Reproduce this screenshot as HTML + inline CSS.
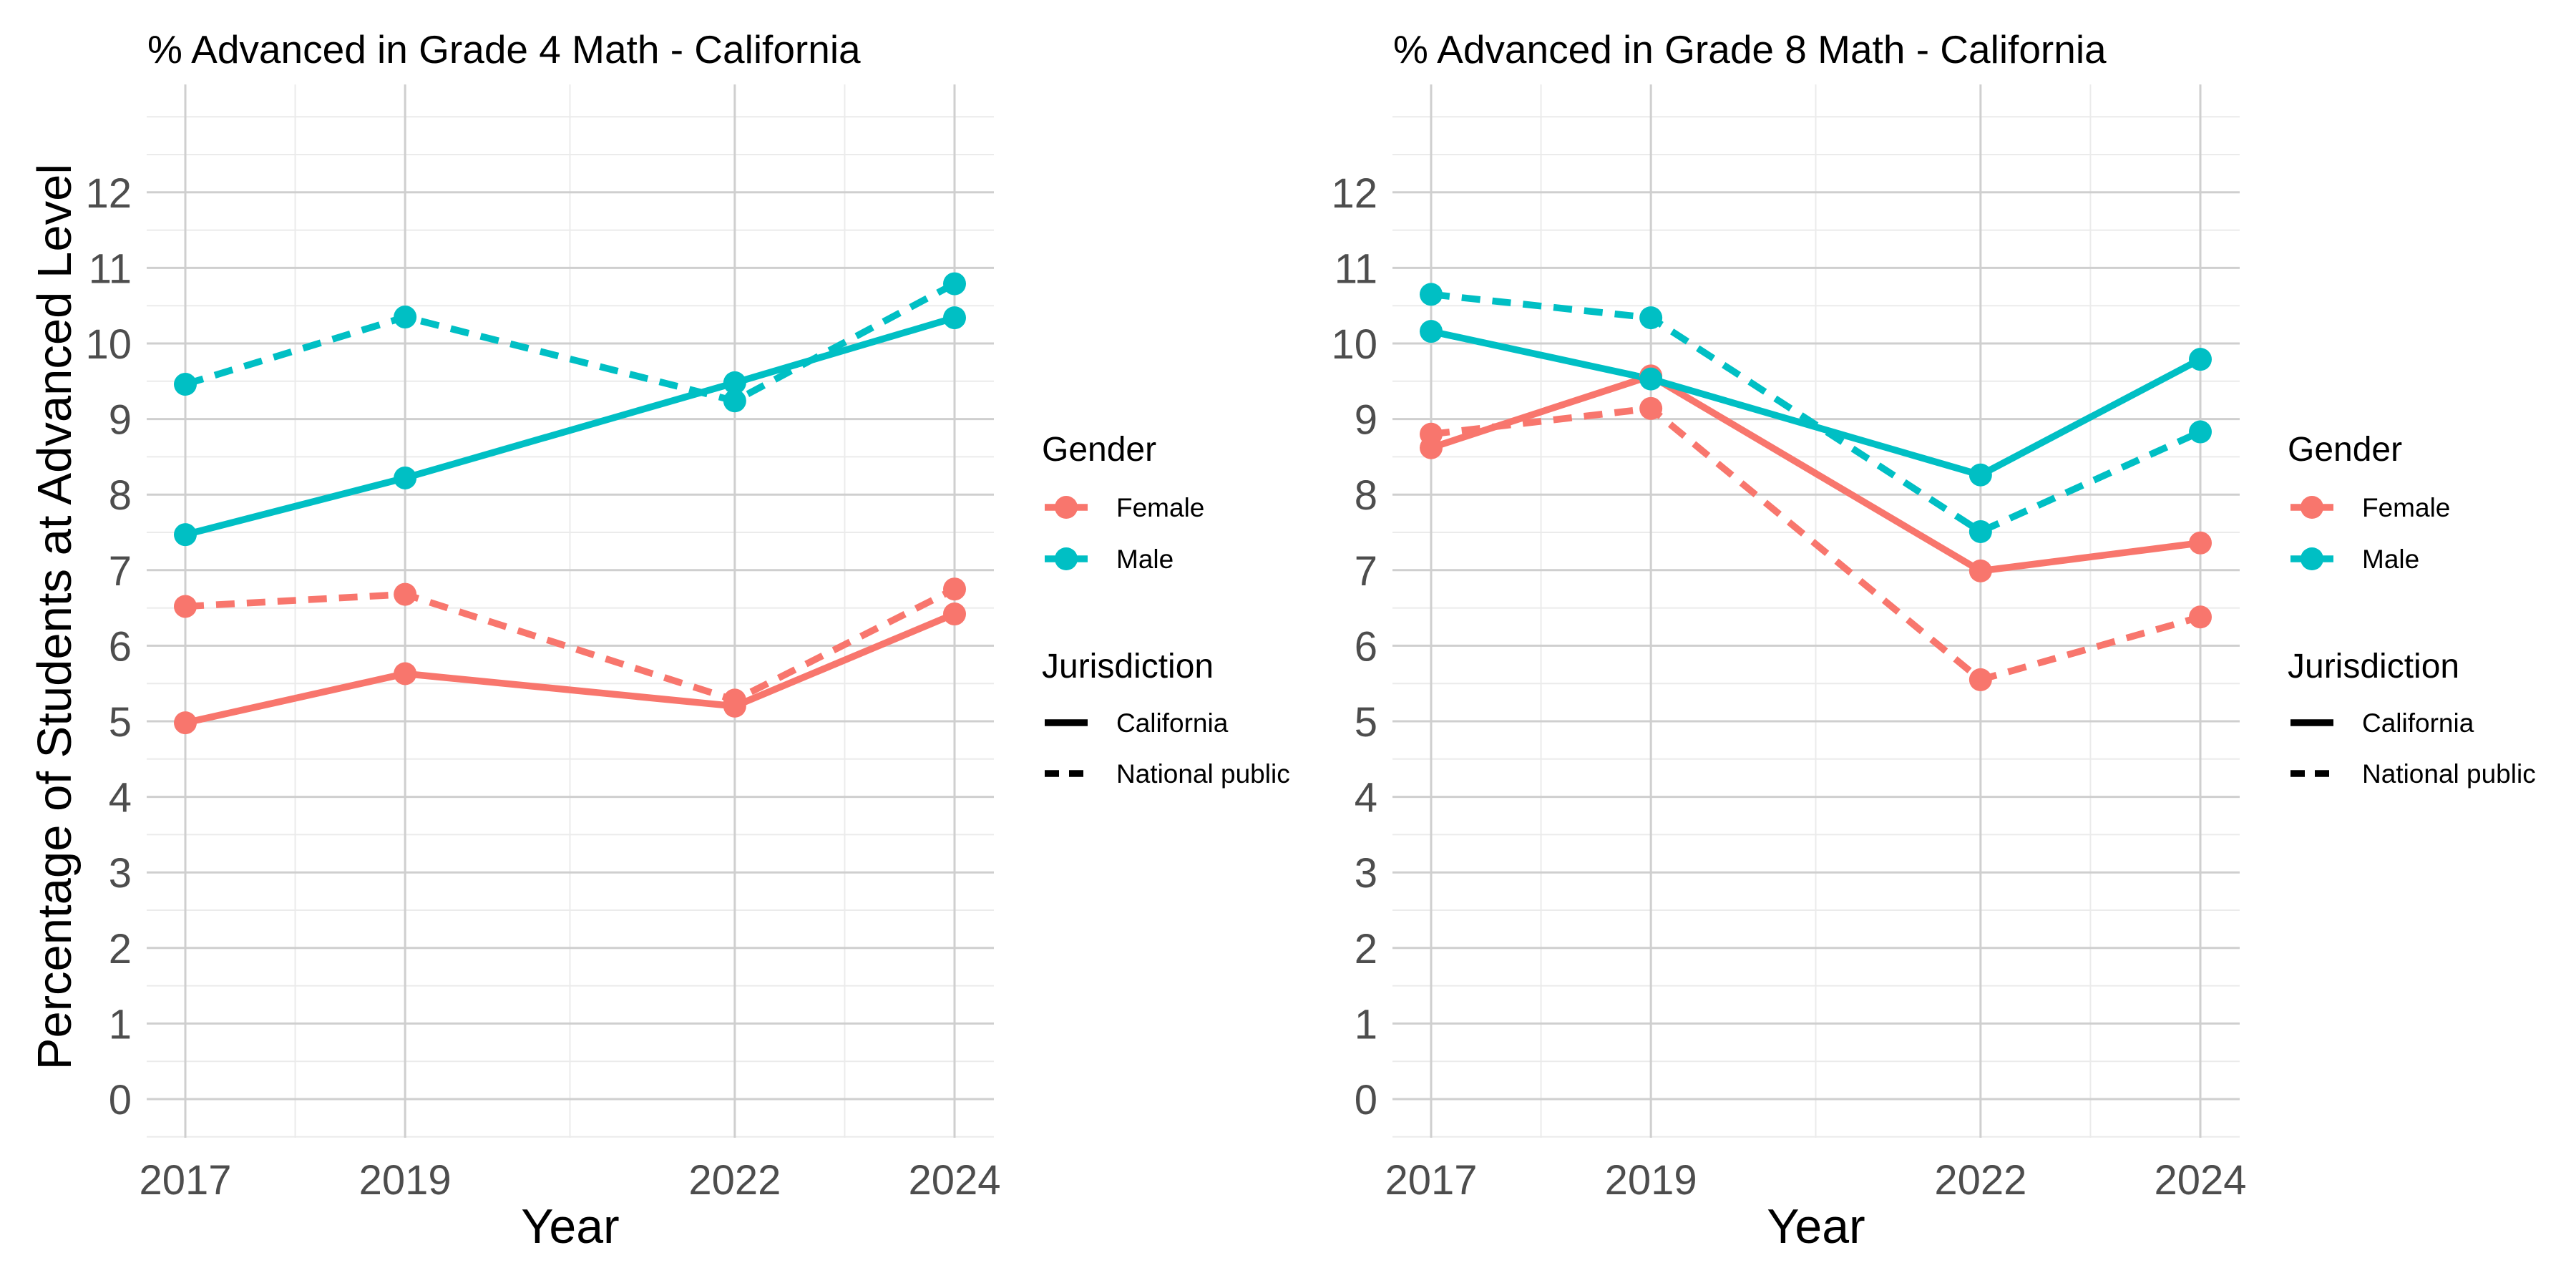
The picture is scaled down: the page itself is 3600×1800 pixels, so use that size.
<!DOCTYPE html>
<html><head><meta charset="utf-8"><style>
html,body{margin:0;padding:0;background:#fff;}
svg{display:block;font-family:"Liberation Sans",Arial,sans-serif;}
</style></head><body>
<svg id="chart" width="3600" height="1800" viewBox="0 0 3600 1800" xmlns="http://www.w3.org/2000/svg"></svg>
<script>
const years = [2017, 2019, 2022, 2024];
const yTicks = [0,1,2,3,4,5,6,7,8,9,10,11,12];
const g4CaFemale = [4.98, 5.63, 5.20, 6.42];
const g4NpFemale = [6.52, 6.68, 5.28, 6.75];
const g4CaMale = [7.47, 8.22, 9.48, 10.34];
const g4NpMale = [9.46, 10.35, 9.24, 10.79];
const g8CaFemale = [8.62, 9.57, 6.99, 7.36];
const g8NpFemale = [8.80, 9.14, 5.55, 6.38];
const g8CaMale = [10.16, 9.53, 8.26, 9.79];
const g8NpMale = [10.65, 10.34, 7.51, 8.83];

const NS = "http://www.w3.org/2000/svg";
const svg = document.getElementById('chart');
function mk(tag, attrs, parent, text){
  const e = document.createElementNS(NS, tag);
  for (const k in attrs) e.setAttribute(k, attrs[k]);
  if (text !== undefined) e.textContent = text;
  (parent||svg).appendChild(e);
  return e;
}
const RED = "#F8766D", TEAL = "#00BFC4";

function panel(ox, title, series, showYTitle, key){
  const g = mk('g', {});
  
  
  const x0 = ox + 259, x1 = ox + 1334;
  const xs = v => x0 + (v - 2017) / 7 * (x1 - x0);
  const ys = v => 1536 - v * 105.6;
  const L = ox + 205, R = ox + 1389, T = 118, B = 1590;
  for (let v = -0.5; v <= 12.51; v += 1) {
    mk('line', {x1:L, x2:R, y1:ys(v), y2:ys(v), stroke:'#ebebeb', 'stroke-width':2}, g);
  }
  mk('line', {x1:L, x2:R, y1:ys(13), y2:ys(13), stroke:'#ebebeb', 'stroke-width':2}, g);
  [2018, 2020.5, 2023].forEach(v => mk('line', {x1:xs(v), x2:xs(v), y1:T, y2:B, stroke:'#ebebeb', 'stroke-width':2}, g));
  yTicks.forEach(v => {
    mk('line', {x1:L, x2:R, y1:ys(v), y2:ys(v), stroke:'#cfcfcf', 'stroke-width':3}, g);
    const t = mk('text', {x:ox+184, y:ys(v)+21, 'text-anchor':'end', 'font-size':58, fill:'#4d4d4d'}, g, String(v));
    
    
  });
  years.forEach(v => {
    mk('line', {x1:xs(v), x2:xs(v), y1:T, y2:B, stroke:'#cfcfcf', 'stroke-width':3}, g);
    const t = mk('text', {x:xs(v), y:1669, 'text-anchor':'middle', 'font-size':58, fill:'#4d4d4d'}, g, String(v));
    
    
  });
  const tt = mk('text', {x:ox+206, y:88, 'font-size':55, fill:'#000'}, g, title);
  
  
  const xt = mk('text', {x:(L+R)/2, y:1737, 'text-anchor':'middle', 'font-size':68, fill:'#000'}, g, 'Year');
  
  
  if (showYTitle) {
    const yt = mk('text', {x:0, y:0, 'text-anchor':'middle', 'font-size':67, fill:'#000', transform:'translate(99,'+((T+B)/2+8)+') rotate(-90)'}, g, 'Percentage of Students at Advanced Level');
    
    
  }
  series.forEach(s => {
    const pts = s.vals.map((v,i) => xs(years[i]) + ',' + ys(v)).join(' ');
    const pl = mk('polyline', {points:pts, fill:'none', stroke:s.color, 'stroke-width':9.5, 'stroke-dasharray': s.dash ? '26,17' : 'none'}, g);
    
    
  });
  series.forEach(s => {
    s.vals.forEach((v,i) => {
      const c = mk('circle', {cx:xs(years[i]), cy:ys(v), r:16, fill:s.color}, g);
      
      
    });
  });
  const lx = ox + 1460, tx = ox + 1560;
  const lg = mk('g', {}, g);
  
  
  mk('text', {x:ox+1456, y:644, 'font-size':48, fill:'#000'}, lg, 'Gender');
  [[RED,'Female',709],[TEAL,'Male',781]].forEach(([c,n,y]) => {
    mk('line', {x1:lx, x2:lx+60, y1:y, y2:y, stroke:c, 'stroke-width':9.5}, lg);
    mk('circle', {cx:lx+30, cy:y, r:16, fill:c}, lg);
    const t = mk('text', {x:tx, y:y+13, 'font-size':37, fill:'#000'}, lg, n);
    
    
  });
  mk('text', {x:ox+1456, y:947, 'font-size':48, fill:'#000'}, lg, 'Jurisdiction');
  [['none','California',1010],['20,14','National public',1081]].forEach(([d,n,y]) => {
    mk('line', {x1:lx, x2:lx+60, y1:y, y2:y, stroke:'#000', 'stroke-width':9.5, 'stroke-dasharray':d}, lg);
    const t = mk('text', {x:tx, y:y+13, 'font-size':37, fill:'#000'}, lg, n);
    
    
  });
}

panel(0, '% Advanced in Grade 4 Math - California', [
  {name:'ca-female', vals:g4CaFemale, color:RED, dash:false},
  {name:'np-female', vals:g4NpFemale, color:RED, dash:true},
  {name:'ca-male', vals:g4CaMale, color:TEAL, dash:false},
  {name:'np-male', vals:g4NpMale, color:TEAL, dash:true}
], true, 'grade4');
panel(1741, '% Advanced in Grade 8 Math - California', [
  {name:'ca-female', vals:g8CaFemale, color:RED, dash:false},
  {name:'np-female', vals:g8NpFemale, color:RED, dash:true},
  {name:'ca-male', vals:g8CaMale, color:TEAL, dash:false},
  {name:'np-male', vals:g8NpMale, color:TEAL, dash:true}
], false, 'grade8');
</script>
</body></html>
